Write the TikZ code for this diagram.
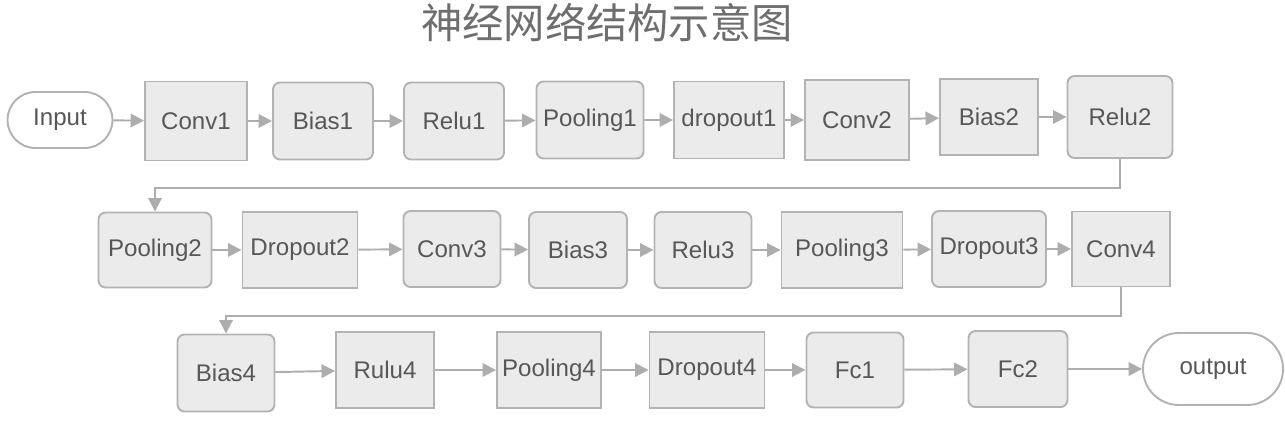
\documentclass[tikz,border=0pt]{standalone}
\usepackage{fontspec}
\setmainfont{Liberation Sans}
\newfontfamily\cjk{Noto Sans CJK SC}
\usetikzlibrary{arrows.meta}

\definecolor{boxfill}{HTML}{EBEBEB}
\definecolor{boxline}{HTML}{B3B3B3}
\definecolor{txtgray}{HTML}{575757}
\definecolor{titlegray}{HTML}{6E6E6E}
\definecolor{flowgray}{HTML}{ADADAD}

\tikzset{
    blk/.style 2 args={draw=boxline, fill=boxfill, line width=1.1pt, inner sep=0pt,
        minimum width=#1*0.02cm, minimum height=#2*0.02cm, text=txtgray,
        font=\fontsize{13.7}{16}\selectfont},
    rblk/.style 2 args={blk={#1}{#2}, rounded corners=4pt},
    term/.style 2 args={blk={#1}{#2}, fill=white, rounded corners=#2*0.01cm},
    flow/.style={draw=flowgray, line width=1.1pt,
        -{Triangle[length=0.27cm,width=0.27cm]}}
}

\begin{document}
\begin{tikzpicture}[x=0.02cm, y=-0.02cm]
    \useasboundingbox (0,0) rectangle (1285,425);

    \node[text=titlegray, font=\cjk\fontsize{23.5}{28}\selectfont] (title) at (607,23)
        {神经网络结构示意图};

    % first row
    \node[term={105}{56}] (input) at (60,120) {Input};
    \node[blk={102}{79}] (conv1) at (196,121) {Conv1};
    \node[rblk={100}{77}] (bias1) at (323,121) {Bias1};
    \node[rblk={100}{77}] (relu1) at (454,121) {Relu1};
    \node[rblk={107}{77}] (pool1) at (590,120) {Pooling1};
    \node[blk={110}{77}] (drop1) at (729,120) {dropout1};
    \node[blk={104}{80}] (conv2) at (857,120) {Conv2};
    \node[blk={98}{76}] (bias2) at (989,117) {Bias2};
    \node[rblk={105}{82}] (relu2) at (1120,117) {Relu2};

    % second row
    \node[rblk={113}{75}] (pool2) at (155,250) {Pooling2};
    \node[blk={115}{76}] (drop2) at (300,250) {Dropout2};
    \node[rblk={97}{76}] (conv3) at (452,249) {Conv3};
    \node[rblk={98}{76}] (bias3) at (578,250) {Bias3};
    \node[rblk={97}{76}] (relu3) at (703,250) {Relu3};
    \node[blk={121}{76}] (pool3) at (842,250) {Pooling3};
    \node[rblk={114}{76}] (drop3) at (989,249) {Dropout3};
    \node[blk={98}{75}] (conv4) at (1121,249) {Conv4};

    % third row
    \node[rblk={97}{77}] (bias4) at (226,373) {Bias4};
    \node[blk={98}{76}] (rulu4) at (385,370) {Rulu4};
    \node[blk={104}{76}] (pool4) at (549,370) {Pooling4};
    \node[blk={115}{76}] (drop4) at (707,370) {Dropout4};
    \node[rblk={97}{75}] (fc1) at (855,370) {Fc1};
    \node[rblk={99}{76}] (fc2) at (1018,369) {Fc2};
    \node[term={140}{72}] (output) at (1213,369) {output};

    % arrows along the rows
    \foreach \a/\b in {input/conv1, conv1/bias1, bias1/relu1, relu1/pool1,
        pool1/drop1, drop1/conv2, conv2/bias2, bias2/relu2,
        pool2/drop2, drop2/conv3, conv3/bias3, bias3/relu3, relu3/pool3,
        pool3/drop3, drop3/conv4,
        bias4/rulu4, rulu4/pool4, pool4/drop4, drop4/fc1, fc1/fc2, fc2/output}
        \draw[flow] (\a) -- (\b);

    % row changes
    \coordinate (wrapA) at (640,188);
    \coordinate (wrapB) at (670,316);
    \draw[flow] (relu2.south) |- (wrapA) -| (pool2.north);
    \draw[flow] (conv4.south) |- (wrapB) -| (bias4.north);
\end{tikzpicture}
\end{document}
